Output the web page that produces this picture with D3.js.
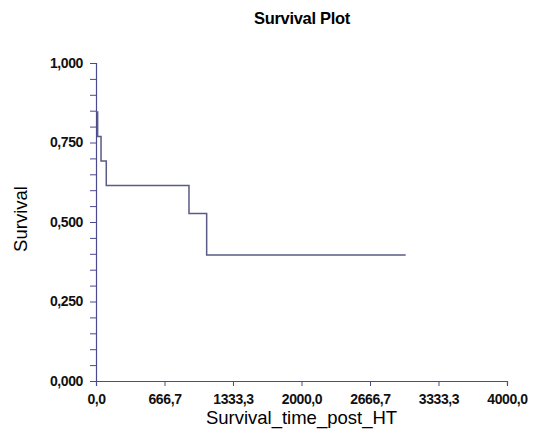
<!DOCTYPE html>
<html>
<head>
<meta charset="utf-8">
<script src="https://cdn.jsdelivr.net/npm/d3@7"></script>
<style>
  body { margin: 0; background: #fff; }
  text { font-family: "Liberation Sans", Arial, sans-serif; }
</style>
</head>
<body>
<div id="chart-area"></div>
<script>
// Kaplan-Meier steps
const times = [0, 16, 49, 100, 905, 1077, 3014];
const survival = [0.846, 0.769, 0.692, 0.615, 0.527, 0.396, 0.396];
const xTicks = [0, 666.7, 1333.3, 2000, 2666.7, 3333.3, 4000];
const yTicks = [0, 0.25, 0.5, 0.75, 1];
const yMinor = d3.range(0, 1.0001, 0.05);

const chartSize = { width: 534, height: 434 };
const margin = { left: 96, right: 27, top: 63, bottom: 53 };
const width = chartSize.width - margin.left - margin.right;
const height = chartSize.height - margin.top - margin.bottom;

const axisColor = "#4a4a8c";
const lineColor = "#5a5a86";
const fmt = d => d.toFixed(1).replace(".", ",");
const fmtY = d => d.toFixed(3).replace(".", ",");

const svg = d3.select("#chart-area").append("svg")
    .attr("width", chartSize.width)
    .attr("height", chartSize.height);

const g = svg.append("g")
    .attr("transform", `translate(${margin.left}, ${margin.top})`);

const x = d3.scaleLinear().domain([0, 4000]).range([0, width]);
const y = d3.scaleLinear().domain([0, 1]).range([height, 0]);

// y axis: minor ticks every 0.05, labels on major ones
const yAxis = g.append("g").attr("class", "y axis")
    .call(d3.axisLeft(y).tickValues(yMinor).tickSize(6)
        .tickFormat(d => yTicks.some(t => Math.abs(t - d) < 1e-6) ? fmtY(d) : ""));

// x axis
const xAxis = g.append("g").attr("class", "x axis")
    .attr("transform", `translate(0, ${height})`)
    .call(d3.axisBottom(x).tickValues(xTicks).tickSize(5).tickFormat(fmt));

[yAxis, xAxis].forEach(a => {
    a.select(".domain").attr("stroke", axisColor).attr("stroke-width", 1.2);
    a.selectAll(".tick line").attr("stroke", axisColor);
    a.selectAll(".tick text")
        .attr("fill", "#111")
        .style("font-size", "14px")
        .style("font-weight", "bold")
        .style("letter-spacing", "-0.4px");
});
yAxis.selectAll(".tick text").attr("x", -13);
xAxis.selectAll(".tick text").attr("y", 23).attr("dy", 0);

// survival step line
const pts = times.map((t, i) => [t, survival[i]]);
const line = d3.line().x(d => x(d[0])).y(d => y(d[1])).curve(d3.curveStepAfter);
g.append("path").attr("class", "km")
    .attr("d", line(pts))
    .attr("fill", "none")
    .attr("stroke", lineColor)
    .attr("stroke-width", 1.5);

// titles
svg.append("text")
    .attr("x", 302).attr("y", 24)
    .attr("text-anchor", "middle")
    .style("font-size", "16.5px").style("font-weight", "bold")
    .style("letter-spacing", "-0.3px")
    .text("Survival Plot");

g.append("text")
    .attr("x", width / 2).attr("y", height + 43)
    .attr("text-anchor", "middle")
    .style("font-size", "18.5px")
    .text("Survival_time_post_HT");

g.append("text")
    .attr("transform", "rotate(-90)")
    .attr("x", -(219 - margin.top)).attr("y", -69)
    .attr("text-anchor", "middle")
    .style("font-size", "18.5px")
    .text("Survival");
</script>
</body>
</html>
